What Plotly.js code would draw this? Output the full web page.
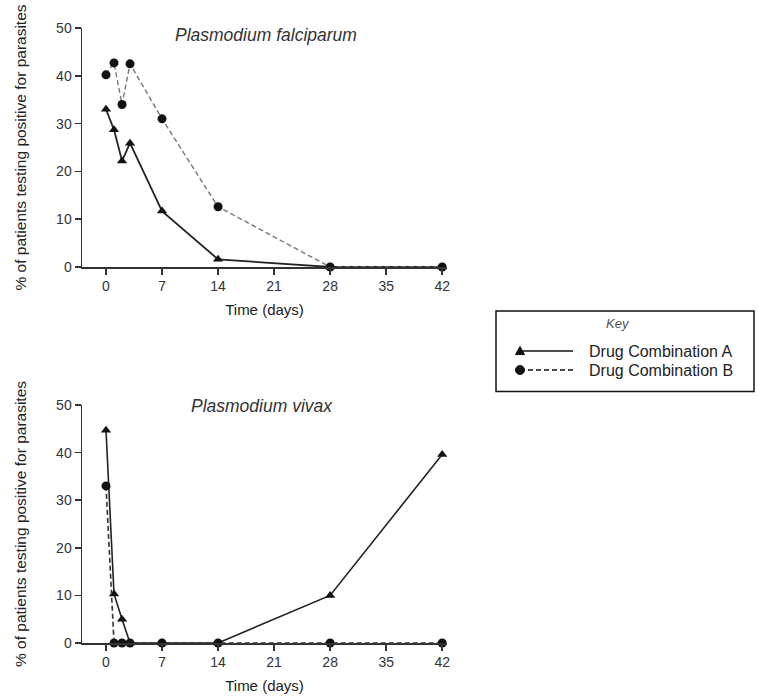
<!DOCTYPE html>
<html>
<head>
<meta charset="utf-8">
<script src="https://cdn.plot.ly/plotly-3.0.1.min.js"></script>
<style>html,body{margin:0;padding:0;background:#fff;}#chart{width:759px;height:696px;}</style>
</head>
<body>
<div id="chart"></div>
<script>
// ---- data ----
const days = [0, 1, 2, 3, 7, 14, 28, 42];
const falciparumA = [33.0, 28.7, 22.2, 25.9, 11.7, 1.6, 0, 0];
const falciparumB = [40.2, 42.7, 34.0, 42.5, 31.0, 12.6, 0, 0];
const vivaxA = [44.7, 10.3, 5.0, 0, 0, 0, 10.0, 39.6];
const vivaxB = [33.0, 0, 0, 0, 0, 0, 0, 0];
const seriesNames = ['Drug Combination A', 'Drug Combination B'];
const panelTitles = ['Plasmodium falciparum', 'Plasmodium vivax'];
const xTicks = [0, 7, 14, 21, 28, 35, 42];
const yTicks = [0, 10, 20, 30, 40, 50];
const xTitle = 'Time (days)';
const yTitle = '% of patients testing positive for parasites';
const keyTitle = 'Key';

// ---- layout helpers ----
const W = 759, H = 696;
const px = x => x / W;
const py = y => 1 - y / H;
const FONT = 'Liberation Sans, Arial, sans-serif';

const triA = {symbol: 'triangle-up', size: 9, color: '#111'};
const dotB = {symbol: 'circle', size: 9, color: '#111'};

const traces = [
  {x: days, y: falciparumA, xaxis: 'x', yaxis: 'y', mode: 'lines+markers', name: seriesNames[0],
   line: {color: '#222', width: 1.8}, marker: triA, cliponaxis: false, showlegend: false},
  {x: days, y: falciparumB, xaxis: 'x', yaxis: 'y', mode: 'lines+markers', name: seriesNames[1],
   line: {color: '#777', width: 1.4, dash: '5px,3px'}, marker: dotB, cliponaxis: false, showlegend: false},
  {x: days, y: vivaxA, xaxis: 'x2', yaxis: 'y2', mode: 'lines+markers', name: seriesNames[0],
   line: {color: '#222', width: 1.6}, marker: triA, cliponaxis: false, showlegend: false},
  {x: days, y: vivaxB, xaxis: 'x2', yaxis: 'y2', mode: 'lines+markers', name: seriesNames[1],
   line: {color: '#333', width: 1.6, dash: '5px,3px'}, marker: dotB, cliponaxis: false, showlegend: false}
];

function xAxis(anchor, domain) {
  return {
    anchor: anchor, domain: domain, range: [-3, 42.6], tickvals: xTicks, ticktext: xTicks.map(String),
    showline: true, linecolor: '#333', linewidth: 1.5, ticks: 'outside', ticklen: 6, tickwidth: 1.5, tickcolor: '#333',
    showgrid: false, zeroline: false, tickfont: {family: FONT, size: 14, color: '#333'},
    title: {text: xTitle, font: {family: FONT, size: 15, color: '#222'}, standoff: 11},
    fixedrange: true
  };
}
function yAxis(anchor, domain) {
  return {
    anchor: anchor, domain: domain, range: [0, 50], tickvals: yTicks, ticktext: yTicks.map(String),
    showline: true, linecolor: '#333', linewidth: 1.5, ticks: 'outside', ticklen: 6, tickwidth: 1.5, tickcolor: '#333',
    showgrid: false, zeroline: false, tickfont: {family: FONT, size: 14, color: '#333'},
    title: {text: yTitle, font: {family: FONT, size: 15.5, color: '#222'}, standoff: 25},
    fixedrange: true
  };
}

const xDom = [px(82), px(447)];
const layout = {
  width: W, height: H,
  margin: {l: 0, r: 0, t: 0, b: 0},
  paper_bgcolor: '#fff', plot_bgcolor: '#fff',
  showlegend: false,
  xaxis: xAxis('y', xDom),
  yaxis: yAxis('x', [py(267), py(28)]),
  xaxis2: xAxis('y2', xDom),
  yaxis2: yAxis('x2', [py(643), py(405)]),
  annotations: [
    {text: panelTitles[0], xref: 'paper', yref: 'paper', x: px(266), y: py(35), xanchor: 'center', yanchor: 'middle',
     showarrow: false, font: {family: FONT, size: 17.5, color: '#333', style: 'italic'}},
    {text: panelTitles[1], xref: 'paper', yref: 'paper', x: px(262), y: py(406), xanchor: 'center', yanchor: 'middle',
     showarrow: false, font: {family: FONT, size: 17.5, color: '#333', style: 'italic'}},
    {text: keyTitle, xref: 'paper', yref: 'paper', x: px(618), y: py(323), xanchor: 'center', yanchor: 'middle',
     showarrow: false, font: {family: FONT, size: 13, color: '#555', style: 'italic'}},
    {text: seriesNames[0], xref: 'paper', yref: 'paper', x: px(587), y: py(351), xanchor: 'left', yanchor: 'middle',
     showarrow: false, font: {family: FONT, size: 16, color: '#222'}},
    {text: seriesNames[1], xref: 'paper', yref: 'paper', x: px(587), y: py(370), xanchor: 'left', yanchor: 'middle',
     showarrow: false, font: {family: FONT, size: 16, color: '#222'}}
  ],
  shapes: [
    {type: 'rect', xref: 'paper', yref: 'paper', x0: px(496), x1: px(754), y0: py(391.5), y1: py(311),
     line: {color: '#111', width: 1.5}, fillcolor: 'rgba(0,0,0,0)'},
    {type: 'line', xref: 'paper', yref: 'paper', x0: px(520), x1: px(573), y0: py(351), y1: py(351),
     line: {color: '#111', width: 1.6}},
    {type: 'line', xref: 'paper', yref: 'paper', x0: px(520), x1: px(573), y0: py(370), y1: py(370),
     line: {color: '#111', width: 1.6, dash: '5px,3px'}},
    {type: 'path', xref: 'paper', yref: 'paper',
     path: 'M ' + px(515.5) + ' ' + py(354.5) + ' L ' + px(524.5) + ' ' + py(354.5) + ' L ' + px(520) + ' ' + py(346.5) + ' Z',
     line: {color: '#111', width: 1}, fillcolor: '#111'},
    {type: 'circle', xref: 'paper', yref: 'paper', x0: px(515.5), x1: px(524.5), y0: py(374.5), y1: py(365.5),
     line: {color: '#111', width: 1}, fillcolor: '#111'}
  ]
};

Plotly.newPlot('chart', traces, layout, {staticPlot: true, displayModeBar: false});
</script>
</body>
</html>
